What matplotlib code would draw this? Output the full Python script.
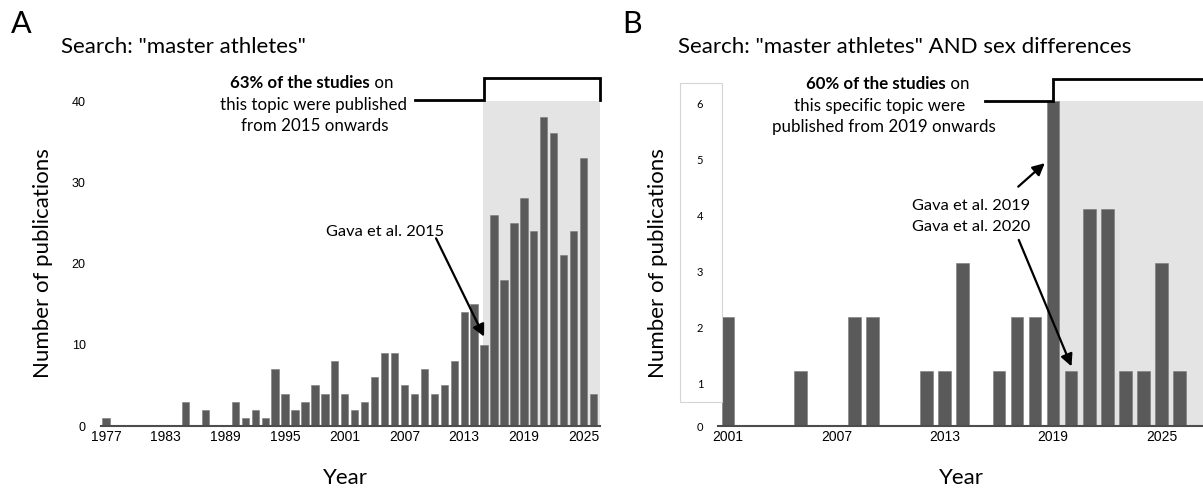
import matplotlib
matplotlib.use("Agg")
import matplotlib.pyplot as plt
import numpy as np
from matplotlib.patches import Rectangle

# Panel A: search "master athletes", publications per year
years_a = list(range(1977, 2027))
pubs_a = [1, 0, 0, 0, 0, 0, 0, 0, 3, 0,
          2, 0, 0, 3, 1, 2, 1, 7, 4, 2,
          3, 5, 4, 8, 4, 2, 3, 6, 9, 9,
          5, 4, 7, 4, 5, 8, 14, 15, 10, 26,
          18, 25, 28, 24, 38, 36, 21, 24, 33, 4]
xticks_a = [1977, 1983, 1989, 1995, 2001, 2007, 2013, 2019, 2025]
yticks_a = [0, 10, 20, 30, 40]

# Panel B: search "master athletes" AND sex differences
years_b = [2001, 2005, 2008, 2009, 2012, 2013, 2014, 2016, 2017, 2018,
           2019, 2020, 2021, 2022, 2023, 2024, 2025, 2026]
pubs_b = [2, 1, 2, 2, 1, 1, 3, 1, 2, 2, 6, 1, 4, 4, 1, 1, 3, 1]
xticks_b = [2001, 2007, 2013, 2019, 2025]
ytick_labels_b = ['0', '1', '2', '3', '4', '5', '6']

W, H = 1203, 490
BAR = '#5a5a5a'
SHADE = '#e4e4e4'
TXT = 'Lato'
TICKF = 'Liberation Sans'
FS_NOTE = 12.2
FS_GAVA = 11.8
FS_BIG = 16

fig = plt.figure(figsize=(W / 100, H / 100), dpi=100)


def fx(x):
    return x / W


def fy(y):
    return 1 - y / H


def setup(ax):
    for s in ['top', 'right', 'left']:
        ax.spines[s].set_visible(False)
    ax.spines['bottom'].set_color('#4d4d4d')
    ax.spines['bottom'].set_linewidth(1.5)
    ax.tick_params(length=0)
    ax.set_facecolor('none')


def arrow(ax, tip, start):
    ax.annotate('', xy=tip, xytext=start,
                arrowprops=dict(arrowstyle='-|>', color='black', lw=1.6, mutation_scale=18,
                                shrinkA=0, shrinkB=0), zorder=6)


def bold_line(xc, y, bold, rest):
    # a centred line made of a bold part and a normal part
    r = fig.canvas.get_renderer()
    t1 = fig.text(0, fy(y), bold, fontsize=FS_NOTE, family=TXT, weight='bold', va='center')
    t2 = fig.text(0, fy(y), rest, fontsize=FS_NOTE, family=TXT, va='center')
    w1 = t1.get_window_extent(r).width
    w2 = t2.get_window_extent(r).width
    x0 = xc - (w1 + w2) / 2
    t1.set_x(fx(x0))
    t2.set_x(fx(x0 + w1))


# ---------------- Panel A ----------------
axA = fig.add_axes([fx(101), fy(426), fx(600) - fx(101), fy(101) - fy(426)])
setup(axA)
axA.set_xlim(1976.5, 2026.65)
axA.set_ylim(0, 40)
axA.axvspan(2014.9, 2026.65, color=SHADE, zorder=0, lw=0)
axA.bar(years_a, pubs_a, width=0.73, color=BAR, edgecolor='#7a7a7a', linewidth=0.4, zorder=2)
axA.set_xticks(xticks_a)
axA.set_xticklabels([str(t) for t in xticks_a], fontsize=10, family=TICKF)
axA.set_yticks(yticks_a)
axA.set_yticklabels([str(t) for t in yticks_a], fontsize=9, family=TICKF)
axA.tick_params(axis='y', pad=11)
axA.tick_params(axis='x', pad=3)

axA.plot([2008.05, 2015, 2015, 2026.65, 2026.65], [40.1, 40.1, 42.8, 42.8, 40.1],
         color='black', lw=2, clip_on=False, solid_joinstyle='miter', zorder=5)
arrow(axA, (2015.0, 11.0), (2010.17, 23.1))
fig.text(fx(385), fy(232), 'Gava et al. 2015', fontsize=FS_GAVA, family=TXT, ha='center', va='center')

bold_line(312, 83, '63% of the studies', ' on')
fig.text(fx(313), fy(105), 'this topic were published', fontsize=FS_NOTE, family=TXT, ha='center', va='center')
fig.text(fx(315), fy(126), 'from 2015 onwards', fontsize=FS_NOTE, family=TXT, ha='center', va='center')

fig.text(fx(61), fy(47), 'Search: "master athletes"', fontsize=FS_BIG, family=TXT, ha='left', va='center')
fig.text(fx(11), fy(24), 'A', fontsize=22, family=TXT, ha='left', va='center')
fig.text(fx(43), fy(263), 'Number of publications', fontsize=FS_BIG, family=TXT, rotation=90,
         ha='center', va='center')
fig.text(fx(345), fy(478), 'Year', fontsize=FS_BIG, family=TXT, ha='center', va='center')

# ---------------- Panel B ----------------
axB = fig.add_axes([fx(718.4), fy(426), 1 - fx(718.4), fy(101) - fy(426)])
setup(axB)
axB.set_xlim(2000.47, 2027.3)
axB.set_ylim(0, 6)
axB.axvspan(2019.35, 2027.3, color=SHADE, zorder=0, lw=0)
axB.bar(years_b, pubs_b, width=0.7, color=BAR, edgecolor='#7a7a7a', linewidth=0.4, zorder=2)
axB.set_xticks(xticks_b)
axB.set_xticklabels([str(t) for t in xticks_b], fontsize=10, family=TICKF)
# tick labels sit where the pasted axis put them
ylab_px = [426.7, 384.3, 328.3, 271.7, 215.7, 159.3, 103.3]
axB.set_yticks([(426 - p) / 54.2 for p in ylab_px])
axB.set_yticklabels(ytick_labels_b, fontsize=8, family=TXT)
axB.tick_params(axis='y', pad=11)
axB.tick_params(axis='x', pad=3)

fig.patches.append(Rectangle((fx(680), fy(402)), fx(722) - fx(680), fy(83) - fy(402),
                             transform=fig.transFigure, fill=False, edgecolor='#d4d4d4', lw=0.8))

axB.plot([2015.22, 2019, 2019, 2027.3], [6.0, 6.0, 6.4, 6.4],
         color='black', lw=2, clip_on=False, solid_joinstyle='miter', zorder=5)
arrow(axB, (2018.54, 4.85), (2017.07, 4.415))
arrow(axB, (2020.02, 1.09), (2017.1, 3.43))
fig.text(fx(971), fy(206), 'Gava et al. 2019', fontsize=FS_GAVA, family=TXT, ha='center', va='center')
fig.text(fx(971), fy(227), 'Gava et al. 2020', fontsize=FS_GAVA, family=TXT, ha='center', va='center')

bold_line(888, 84, '60% of the studies', ' on')
fig.text(fx(880), fy(106), 'this specific topic were', fontsize=FS_NOTE, family=TXT, ha='center', va='center')
fig.text(fx(884), fy(127), 'published from 2019 onwards', fontsize=FS_NOTE, family=TXT, ha='center', va='center')

fig.text(fx(678), fy(47), 'Search: "master athletes" AND sex differences', fontsize=FS_BIG, family=TXT,
         ha='left', va='center')
fig.text(fx(622), fy(24), 'B', fontsize=22, family=TXT, ha='left', va='center')
fig.text(fx(658), fy(263), 'Number of publications', fontsize=FS_BIG, family=TXT, rotation=90,
         ha='center', va='center')
fig.text(fx(961), fy(478), 'Year', fontsize=FS_BIG, family=TXT, ha='center', va='center')

fig.savefig('out.png', dpi=100)
